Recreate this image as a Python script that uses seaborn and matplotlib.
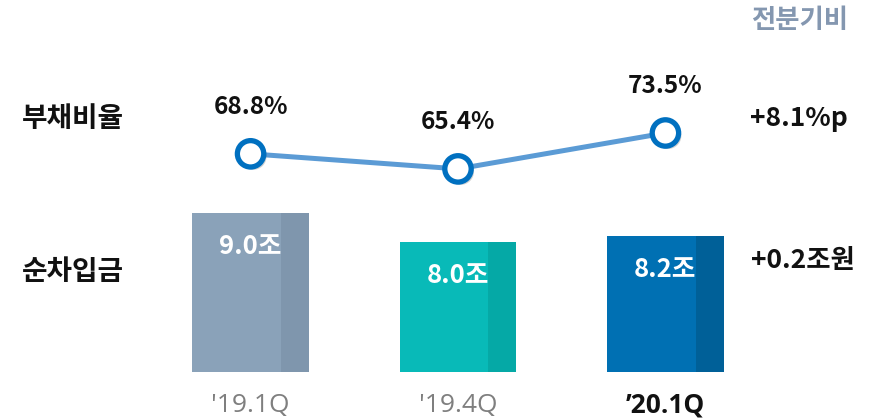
import matplotlib
matplotlib.use("Agg")
import matplotlib.pyplot as plt
import matplotlib.patheffects as pe
import seaborn as sns
import pandas as pd
import numpy as np

# ---- data ----
periods = ["'19.1Q", "'19.4Q", "’20.1Q"]
debt_ratio = [68.8, 65.4, 73.5]            # 부채비율 (%)
net_debt = [9.0, 8.0, 8.2]                 # 순차입금 (조)
ratio_labels = ["68.8%", "65.4%", "73.5%"]
debt_labels = ["9.0조", "8.0조", "8.2조"]
row_labels = ["부채비율", "순차입금"]
change_labels = ["+8.1%p", "+0.2조원"]
header = "전분기비"

bar_colors = ["#8AA2B9", "#08BAB8", "#0070B3"]
bar_dark = ["#7F96AD", "#05A9A6", "#006098"]

sns.set_theme(style="white")
plt.rcParams["font.family"] = ["Noto Sans CJK KR", "DejaVu Sans"]

W, H = 878, 419
fig = plt.figure(figsize=(W / 100, H / 100), dpi=100)

# geometry (pixels)
x_left_px, x_right_px = 95, 821
bar_bottom_px, bar_top_px = 372, 184
line_bottom_px, line_top_px = 215, 82

def fx(px):
    return px / W

def fy(px):
    return 1 - px / H

ax_bar = fig.add_axes([fx(x_left_px), fy(bar_bottom_px),
                       fx(x_right_px - x_left_px), (bar_bottom_px - bar_top_px) / H])
ax_line = fig.add_axes([fx(x_left_px), fy(line_bottom_px),
                        fx(x_right_px - x_left_px), (line_bottom_px - line_top_px) / H])
ax_line.patch.set_alpha(0)

df = pd.DataFrame({"period": periods, "debt": net_debt, "ratio": debt_ratio})

# bars
bw = 0.56
sns.barplot(data=df, x="period", y="debt", hue="period", palette=bar_colors,
            width=bw, ax=ax_bar, legend=False, saturation=1, linewidth=0)
sw = bw * 0.24
xs = np.arange(len(periods))
ax_bar.bar(xs + bw / 2 - sw / 2, net_debt, width=sw, color=bar_dark, linewidth=0)
ax_bar.set_xlim(-0.75, 2.75)
ax_bar.set_ylim(3.5, 10.0)
for x, v, lab in zip(xs, net_debt, debt_labels):
    ax_bar.annotate(lab, (x, v), xytext=(0, -24), textcoords="offset points",
                    ha="center", va="center", color="white", fontsize=18.5,
                    fontweight="bold")
ax_bar.set_xlabel("")
ax_bar.set_ylabel("")
ax_bar.set_yticks([])
ax_bar.set_xticks([])
for s in ax_bar.spines.values():
    s.set_visible(False)

# line
ax_line.plot(xs, debt_ratio, color="#5B9BD5", linewidth=3.6, zorder=1,
             solid_capstyle="butt")
sns.scatterplot(x=xs, y=debt_ratio, ax=ax_line, s=19 ** 2, color="white",
                edgecolor="#0070C0", linewidth=3.8, zorder=3,
                path_effects=[pe.SimplePatchShadow(offset=(2, -2), alpha=0.25),
                              pe.Normal()])
ax_line.set_xlim(-0.75, 2.75)
ax_line.set_ylim(55, 85)
for x, v, lab in zip(xs, debt_ratio, ratio_labels):
    ax_line.annotate(lab, (x, v), xytext=(0, 34), textcoords="offset points",
                     ha="center", va="center", color="#111111", fontsize=17.5,
                     fontweight="bold")
ax_line.set_xticks([])
ax_line.set_yticks([])
for s in ax_line.spines.values():
    s.set_visible(False)

# x tick labels
for i, (x, lab) in enumerate(zip(xs, periods)):
    last = i == len(periods) - 1
    ax_bar.annotate(lab, (x, 3.5), xytext=(0, -24), textcoords="offset points",
                    ha="center", va="center",
                    color="#111111" if last else "#7F7F7F",
                    fontsize=19, fontweight="bold" if last else "normal",
                    family=["Open Sans", "DejaVu Sans"])

# row labels and changes
fig.text(fx(22), fy(119), row_labels[0], ha="left", va="center", fontsize=20,
         fontweight="bold", color="#111111")
fig.text(fx(22), fy(272), row_labels[1], ha="left", va="center", fontsize=20,
         fontweight="bold", color="#111111")
fig.text(fx(750), fy(119), change_labels[0], ha="left", va="center", fontsize=19,
         fontweight="bold", color="#111111")
fig.text(fx(751), fy(260), change_labels[1], ha="left", va="center", fontsize=19,
         fontweight="bold", color="#111111")
fig.text(fx(848), fy(20), header, ha="right", va="center", fontsize=19,
         fontweight="bold", color="#8497B0")

fig.savefig("out.png", dpi=100)
